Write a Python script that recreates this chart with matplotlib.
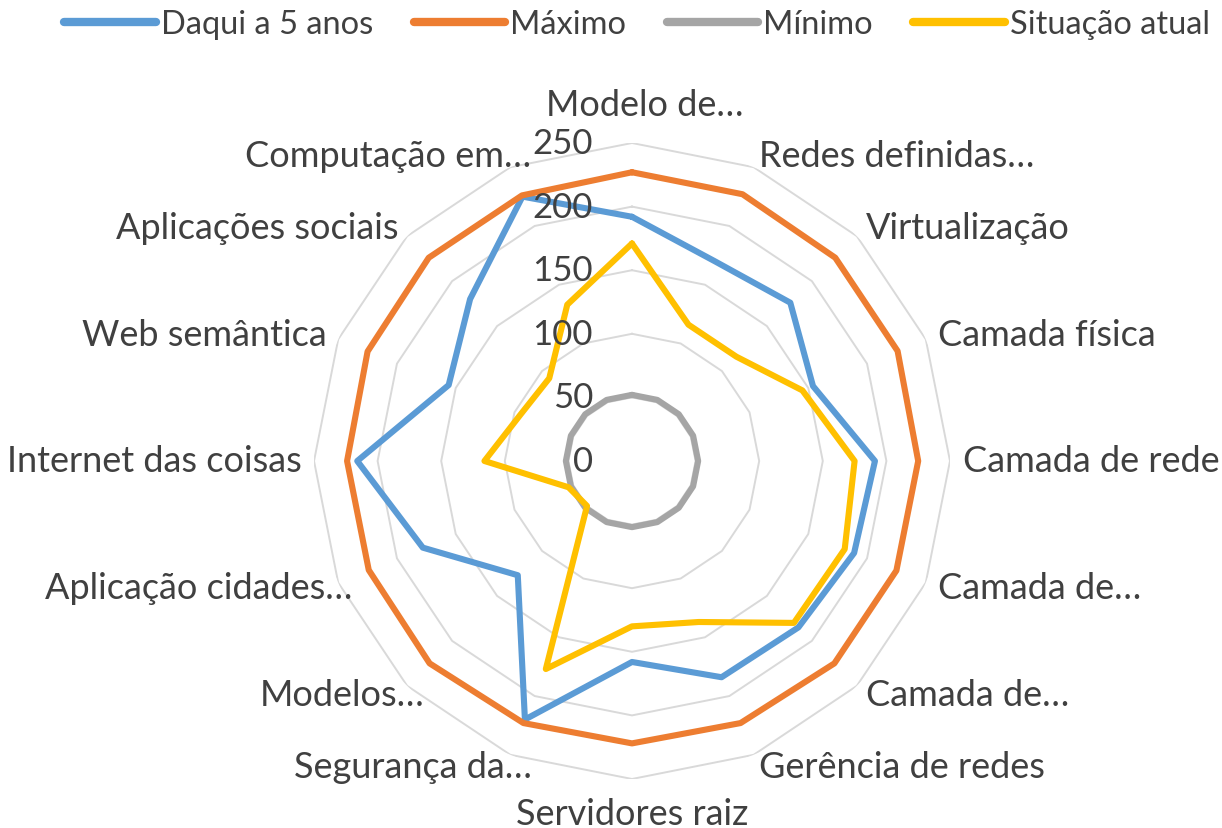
import numpy as np
import matplotlib
matplotlib.use("Agg")
import matplotlib.pyplot as plt
from matplotlib.transforms import offset_copy

plt.rcParams['font.family'] = ['Lato', 'DejaVu Sans']

categories = ["Modelo de…", "Redes definidas…", "Virtualização", "Camada física",
              "Camada de rede", "Camada de…", "Camada de…", "Gerência de redes",
              "Servidores raiz", "Segurança da…", "Modelos…", "Aplicação cidades…",
              "Internet das coisas", "Web semântica", "Aplicações sociais", "Computação em…"]
daqui = [192, 170, 176, 154, 191, 189, 185, 184, 158, 220, 127, 178, 216, 156, 180, 225]
maximo = [227, 227, 226, 226, 225, 225, 225, 223, 222, 223, 225, 224, 224, 225, 226, 226]
minimo = [52, 52, 52, 52, 52, 52, 52, 52, 52, 52, 52, 52, 52, 52, 52, 52]
atual = [171, 116, 116, 145, 175, 181, 180, 137, 130, 177, 50, 54, 116, 95, 92, 133]
series_names = ["Daqui a 5 anos", "Máximo", "Mínimo", "Situação atual"]
series_colors = ["#5B9BD5", "#ED7D31", "#A5A5A5", "#FFC000"]
rticks = [0, 50, 100, 150, 200, 250]

W, H = 1222, 829
fig = plt.figure(figsize=(W / 100, H / 100), dpi=100)
cx, cy, R = 632, 462, 318
ax = fig.add_axes([(cx - R) / W, (H - cy - R) / H, 2 * R / W, 2 * R / H], projection='polar')
ax.set_theta_zero_location('N')
ax.set_theta_direction(-1)
ax.set_ylim(0, 250)
ax.grid(False)
ax.spines['polar'].set_visible(False)
ax.set_xticks([])
ax.set_yticks([])
ax.patch.set_alpha(0)

n = len(categories)
theta = np.arange(n) * 2 * np.pi / n
theta_c = np.append(theta, theta[0])

for r in rticks[1:]:
    ax.plot(theta_c, [r] * (n + 1), color='#D9D9D9', lw=1.4, zorder=1)

text_color = '#404040'
for vals, name, col in zip([daqui, maximo, minimo, atual], series_names, series_colors):
    ax.plot(theta_c, list(vals) + [vals[0]], color=col, lw=4.4, label=name,
            solid_joinstyle='round', solid_capstyle='round', zorder=3)

tr = offset_copy(ax.transData, fig=fig, x=-39, y=0, units='dots')
for r in rticks:
    ax.text(0, r, str(r), transform=tr, ha='right', va='center', fontsize=25, color=text_color)

for t, lab in zip(theta, categories):
    s, c = np.sin(t), np.cos(t)
    ha = 'center' if abs(s) < 0.01 else ('left' if s > 0 else 'right')
    rr = 260
    if abs(s) < 0.01:
        rr = 280 if c > 0 else 277
    dx = 0
    if lab.endswith('…'):
        if ha == 'right':
            dx = 26
        elif ha == 'center':
            dx = 13
    ttr = offset_copy(ax.transData, fig=fig, x=dx, y=0, units='dots')
    ax.text(t, rr, lab, transform=ttr, ha=ha, va='center', fontsize=26, color=text_color)

leg = fig.legend(loc='center', bbox_to_anchor=(637 / W, 1 - 25 / H), ncol=4, frameon=False,
                 fontsize=23.5, handlelength=2.8, handletextpad=0.15, columnspacing=1.25,
                 labelcolor=text_color, borderpad=0, borderaxespad=0)
for h in leg.get_lines():
    h.set_linewidth(6)
    h.set_solid_capstyle('round')

fig.savefig('out.png', dpi=100)
